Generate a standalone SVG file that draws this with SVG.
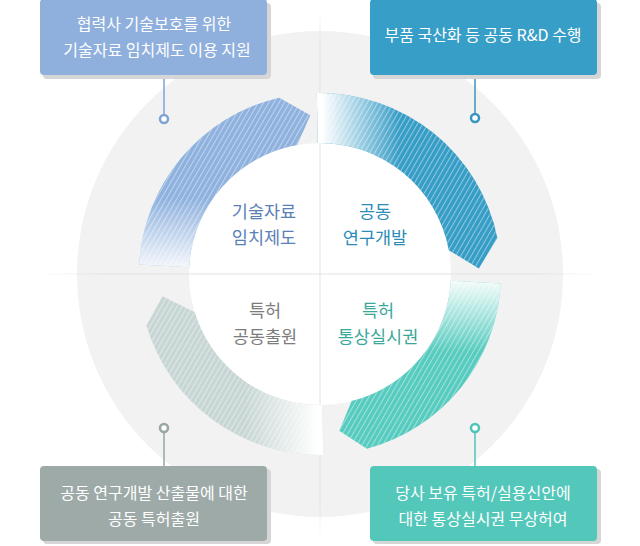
<svg xmlns="http://www.w3.org/2000/svg" width="640" height="546" viewBox="0 0 640 546">
<style>
.box-text{font-family:"Noto Sans CJK KR","Noto Sans",sans-serif;font-size:16px;fill:#fff;text-anchor:middle}
.center-text{font-family:"Noto Sans CJK KR","Noto Sans",sans-serif;font-size:17.5px;text-anchor:middle}
.shadow{fill:#d6d6d6}
.dot{fill:#fff;stroke-width:2.5}
.conn{stroke-width:1.5;fill:none}
</style>
<defs>
<pattern id="hatch" width="4.5" height="4.5" patternUnits="userSpaceOnUse" patternTransform="rotate(30)">
<rect x="0" y="0" width="1" height="4.5" fill="#fff" fill-opacity="0.45"/>
</pattern>
<linearGradient id="hline" gradientUnits="userSpaceOnUse" x1="40" y1="0" x2="600" y2="0">
<stop offset="0" stop-color="#e2e2e2" stop-opacity="0"/>
<stop offset="0.12" stop-color="#e2e2e2"/>
<stop offset="0.88" stop-color="#e2e2e2"/>
<stop offset="1" stop-color="#e2e2e2" stop-opacity="0"/>
</linearGradient>
<linearGradient id="vline" gradientUnits="userSpaceOnUse" x1="0" y1="8" x2="0" y2="540">
<stop offset="0" stop-color="#e2e2e2" stop-opacity="0"/>
<stop offset="0.08" stop-color="#e2e2e2"/>
<stop offset="0.92" stop-color="#e2e2e2"/>
<stop offset="1" stop-color="#e2e2e2" stop-opacity="0"/>
</linearGradient>
<linearGradient id="fadeBlue" gradientUnits="userSpaceOnUse" x1="0" y1="276" x2="0" y2="198">
<stop offset="0" stop-color="#fff" stop-opacity="1"/>
<stop offset="1" stop-color="#fff" stop-opacity="0"/>
</linearGradient>
<linearGradient id="fadeTeal" gradientUnits="userSpaceOnUse" x1="322" y1="0" x2="400" y2="0">
<stop offset="0" stop-color="#fff" stop-opacity="1"/>
<stop offset="1" stop-color="#fff" stop-opacity="0"/>
</linearGradient>
<linearGradient id="fadeGreen" gradientUnits="userSpaceOnUse" x1="0" y1="276" x2="0" y2="352">
<stop offset="0" stop-color="#fff" stop-opacity="1"/>
<stop offset="1" stop-color="#fff" stop-opacity="0"/>
</linearGradient>
<linearGradient id="fadeGray" gradientUnits="userSpaceOnUse" x1="318" y1="0" x2="245" y2="0">
<stop offset="0" stop-color="#fff" stop-opacity="1"/>
<stop offset="1" stop-color="#fff" stop-opacity="0"/>
</linearGradient>
</defs>

<rect width="640" height="546" fill="#fff"/>

<g id="background">
<circle cx="320" cy="274" r="243" fill="#f2f2f2"/>
<circle cx="320" cy="274" r="131" fill="#fff"/>
</g>

<g id="axes">
<line x1="40" y1="274" x2="600" y2="274" stroke="url(#hline)" stroke-width="1"/>
<line x1="320" y1="8" x2="320" y2="540" stroke="url(#vline)" stroke-width="1"/>
</g>

<g id="arc-blue">
<path d="M139.25 264.53 A181 181 0 0 1 279.28 97.64 L310.29 115.3 L297.25 144.99 A131 131 0 0 0 189.18 267.14 Z" fill="#8eb1de"/>
<path d="M139.25 264.53 A181 181 0 0 1 279.28 97.64 L310.29 115.3 L297.25 144.99 A131 131 0 0 0 189.18 267.14 Z" fill="url(#hatch)"/>
<path d="M139.25 264.53 A181 181 0 0 1 279.28 97.64 L310.29 115.3 L297.25 144.99 A131 131 0 0 0 189.18 267.14 Z" fill="url(#fadeBlue)"/>
</g>

<g id="arc-teal">
<path d="M316.84 93.03 A181 181 0 0 1 497.37 237.91 L478.9 268.45 L448.81 250.13 A131 131 0 0 0 317.71 143.02 Z" fill="#369dc6"/>
<path d="M316.84 93.03 A181 181 0 0 1 497.37 237.91 L478.9 268.45 L448.81 250.13 A131 131 0 0 0 317.71 143.02 Z" fill="url(#hatch)"/>
<path d="M316.84 93.03 A181 181 0 0 1 497.37 237.91 L478.9 268.45 L448.81 250.13 A131 131 0 0 0 317.71 143.02 Z" fill="url(#fadeTeal)"/>
</g>

<g id="arc-green">
<path d="M500.75 283.47 A181 181 0 0 1 366.85 448.83 L339.26 430.82 L351.69 401.11 A131 131 0 0 0 450.82 280.86 Z" fill="#56cbbf"/>
<path d="M500.75 283.47 A181 181 0 0 1 366.85 448.83 L339.26 430.82 L351.69 401.11 A131 131 0 0 0 450.82 280.86 Z" fill="url(#hatch)"/>
<path d="M500.75 283.47 A181 181 0 0 1 366.85 448.83 L339.26 430.82 L351.69 401.11 A131 131 0 0 0 450.82 280.86 Z" fill="url(#fadeGreen)"/>
</g>

<g id="arc-gray">
<path d="M323.16 454.97 A181 181 0 0 1 146.45 325.41 L162.55 296.13 L194.72 312.3 A131 131 0 0 0 322.29 404.98 Z" fill="#c7d6d4"/>
<path d="M323.16 454.97 A181 181 0 0 1 146.45 325.41 L162.55 296.13 L194.72 312.3 A131 131 0 0 0 322.29 404.98 Z" fill="url(#hatch)"/>
<path d="M323.16 454.97 A181 181 0 0 1 146.45 325.41 L162.55 296.13 L194.72 312.3 A131 131 0 0 0 322.29 404.98 Z" fill="url(#fadeGray)"/>
</g>

<g id="center-labels">
<text class="center-text" x="264" y="218" fill="#5b80b7">기술자료</text>
<text class="center-text" x="264" y="244" fill="#5b80b7">임치제도</text>
<text class="center-text" x="375" y="218" fill="#2b8cb6">공동</text>
<text class="center-text" x="375" y="244" fill="#2b8cb6">연구개발</text>
<text class="center-text" x="265" y="317" fill="#7c7c7c">특허</text>
<text class="center-text" x="265" y="343" fill="#7c7c7c">공동출원</text>
<text class="center-text" x="378" y="317" fill="#39a89b">특허</text>
<text class="center-text" x="378" y="343" fill="#39a89b">통상실시권</text>
</g>

<g id="connectors">
<line class="conn" x1="164" y1="76" x2="164" y2="114" stroke="#7fa3d4"/>
<circle class="dot" cx="164" cy="119" r="4" stroke="#7fa3d4"/>
<line class="conn" x1="475" y1="76" x2="475" y2="114" stroke="#3596bf"/>
<circle class="dot" cx="475" cy="118" r="4" stroke="#3596bf"/>
<line class="conn" x1="164" y1="433" x2="164" y2="466" stroke="#98a6a4"/>
<circle class="dot" cx="164" cy="428" r="4" stroke="#98a6a4"/>
<line class="conn" x1="475" y1="433" x2="475" y2="466" stroke="#4fc4b8"/>
<circle class="dot" cx="475" cy="428" r="4" stroke="#4fc4b8"/>
</g>

<g id="box-tl">
<rect class="shadow" x="43" y="3" width="228" height="76" rx="4"/>
<rect x="40" y="-1" width="227" height="76" rx="4" fill="#8fb0dd"/>
<text class="box-text" x="154" y="30">협력사 기술보호를 위한</text>
<text class="box-text" x="157" y="56">기술자료 임치제도 이용 지원</text>
</g>

<g id="box-tr">
<rect class="shadow" x="373" y="3" width="228" height="76" rx="4"/>
<rect x="370" y="-1" width="227" height="76" rx="4" fill="#379ec8"/>
<text class="box-text" x="483" y="41">부품 국산화 등 공동 R&amp;D 수행</text>
</g>

<g id="box-bl">
<rect class="shadow" x="43" y="469" width="228" height="75" rx="4"/>
<rect x="40" y="466" width="227" height="75" rx="4" fill="#9eaaa8"/>
<text class="box-text" x="154" y="499">공동 연구개발 산출물에 대한</text>
<text class="box-text" x="154" y="525">공동 특허출원</text>
</g>

<g id="box-br">
<rect class="shadow" x="373" y="469" width="228" height="75" rx="4"/>
<rect x="370" y="466" width="227" height="75" rx="4" fill="#54c7bb"/>
<text class="box-text" x="483" y="499">당사 보유 특허/실용신안에</text>
<text class="box-text" x="483" y="525">대한 통상실시권 무상허여</text>
</g>
</svg>
